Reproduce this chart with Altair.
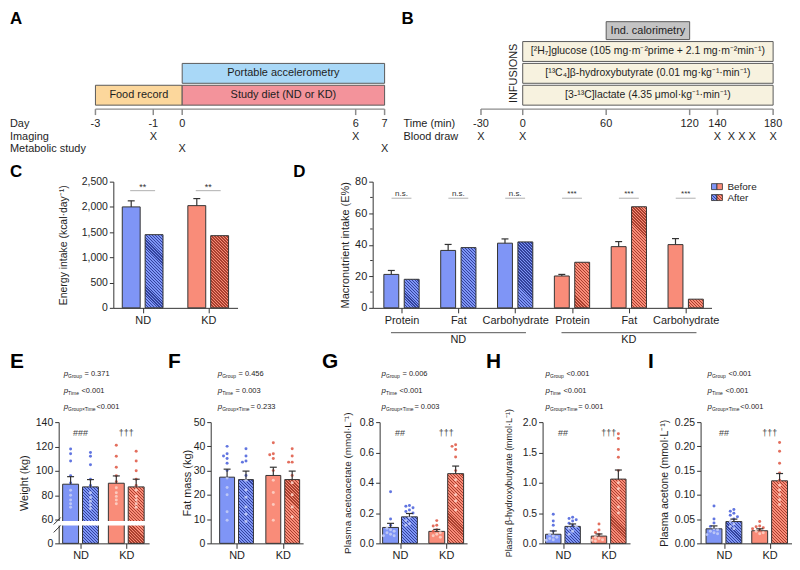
import altair as alt
import pandas as pd

FONT = "Liberation Sans"
INK = "#1e1e1e"
EDGE = "#333333"
GRAY = "#8c8c8c"
BOX_EDGE = "#5a5a5a"
BLUE, RED = "#7f95f6", "#f98c79"
BLUE_HATCH, RED_HATCH = "#33439c", "#a9402e"
BLUE_DOT, RED_DOT = "#5066dd", "#e05e4b"
BLUE_DOT_IN, RED_DOT_IN = "#c3ccf6", "#fcd0c5"
SIG_LINE = "#bdbdbd"
ACCEL, FOOD, DIET = "#a9d8f7", "#fcd79c", "#f3939b"
CALOR, INFUS = "#c4c4c4", "#f7f2df"

# ---------------- data ----------------
A_row_labels = ["Day", "Imaging", "Metabolic study"]
A_tick_days = [-3, -1, 0, 6, 7]
A_imaging_days = [-1, 6]
A_metabolic_days = [0, 7]
A_top_box = ["Portable accelerometry"]
A_top_start, A_top_end = [0], [7]
A_low_boxes = ["Food record", "Study diet (ND or KD)"]
A_low_start, A_low_end = [-3, 0], [0, 7]

B_row_labels = ["Time (min)", "Blood draw"]
B_tick_times = [-30, 0, 60, 120, 140, 180]
B_blood_times = [-30, 0, 140, 150, 157.5, 165, 180]
B_calorimetry = ["Ind. calorimetry"]
B_cal_start, B_cal_end = [60], [120]
B_infusions = ["[²H₇]glucose (105 mg·m⁻²prime + 2.1 mg·m⁻²min⁻¹)",
               "[¹³C₄]β-hydroxybutyrate (0.01 mg·kg⁻¹·min⁻¹)",
               "[3-¹³C]lactate (4.35 μmol·kg⁻¹·min⁻¹)"]
B_inf_start, B_inf_end = [0, 0, 0], [180, 180, 180]

diets = ["ND", "KD"]
conditions = ["Before", "After"]

C_before = [2000, 2025]
C_before_sem = [120, 140]
C_after = [1450, 1430]
C_sig = ["**", "**"]

macros = ["Protein", "Fat", "Carbohydrate"]
D_before = [21.2, 36.4, 41.0, 20.2, 38.8, 40.1]
D_before_sem = [2.5, 3.8, 2.7, 1.0, 3.2, 3.8]
D_after = [18.1, 38.2, 41.8, 28.9, 64.1, 5.5]
D_sig = ["n.s.", "n.s.", "n.s.", "***", "***", "***"]
D_minor = [10, 30, 50, 70]

p_subs = ["Group", "Time", "Group×Time"]

E_before, E_before_sem = [89.0, 89.8], [6.2, 6.0]
E_after, E_after_sem = [86.8, 86.8], [6.0, 6.3]
E_dots_before = [[118, 114, 108, 96, 90, 84, 80, 76, 73, 70],
                 [121, 112, 103, 96, 91, 86, 82, 79, 76, 73]]
E_dots_after = [[115, 112, 105, 93, 88, 82, 78, 75, 72, 69],
                [116, 108, 100, 93, 88, 84, 79, 76, 73, 70]]
E_p = ["= 0.371", "<0.001", "<0.001"]
E_marks = ["###", "†††"]

F_before, F_before_sem = [27.3, 28.0], [3.3, 3.4]
F_after, F_after_sem = [26.3, 26.3], [3.5, 3.5]
F_dots_before = [[40, 37, 36, 35, 33, 30, 27, 23, 20, 13, 9.5],
                 [41.5, 37, 36.5, 35, 30, 26, 21, 16, 9.5]]
F_dots_after = [[39, 36, 34, 33.5, 28, 26, 22, 19, 15, 12, 9],
                [39, 36, 33.5, 33.5, 28, 25, 20, 15, 11]]
F_p = ["= 0.456", "= 0.003", "= 0.233"]
F_marks = []

G_before, G_before_sem = [0.105, 0.079], [0.027, 0.013]
G_after, G_after_sem = [0.175, 0.46], [0.022, 0.05]
G_dots_before = [[0.34, 0.16, 0.12, 0.10, 0.09, 0.08, 0.07, 0.06, 0.05, 0.05],
                 [0.15, 0.12, 0.115, 0.09, 0.08, 0.07, 0.06, 0.05, 0.04]]
G_dots_after = [[0.25, 0.245, 0.235, 0.22, 0.21, 0.2, 0.17, 0.15, 0.13, 0.12],
                [0.65, 0.64, 0.62, 0.57, 0.48, 0.42, 0.38, 0.32, 0.28, 0.22]]
G_p = ["= 0.006", "<0.001", "= 0.003"]
G_marks = ["##", "†††"]

H_before, H_before_sem = [0.15, 0.12], [0.055, 0.035]
H_after, H_after_sem = [0.28, 1.06], [0.04, 0.15]
H_dots_before = [[0.48, 0.37, 0.30, 0.2, 0.15, 0.12, 0.1, 0.08, 0.06, 0.05],
                 [0.32, 0.22, 0.18, 0.15, 0.1, 0.08, 0.06, 0.05, 0.04]]
H_dots_after = [[0.43, 0.41, 0.39, 0.37, 0.33, 0.3, 0.28, 0.25, 0.2, 0.15],
                [1.81, 1.73, 1.55, 1.42, 1.2, 1.0, 0.9, 0.75, 0.6, 0.5]]
H_p = ["<0.001", "<0.001", "= 0.001"]
H_marks = ["##", "†††"]

I_before, I_before_sem = [0.030, 0.026], [0.006, 0.004]
I_after, I_after_sem = [0.045, 0.129], [0.005, 0.015]
I_dots_before = [[0.077, 0.05, 0.042, 0.035, 0.03, 0.028, 0.025, 0.022, 0.02, 0.018],
                 [0.045, 0.036, 0.034, 0.032, 0.03, 0.028, 0.025, 0.022, 0.02]]
I_dots_after = [[0.07, 0.066, 0.062, 0.058, 0.055, 0.05, 0.045, 0.04, 0.035, 0.03],
                [0.208, 0.19, 0.165, 0.145, 0.13, 0.12, 0.11, 0.1, 0.09, 0.08]]
I_p = ["<0.001", "<0.001", "<0.001"]
I_marks = ["##", "†††"]

# ---------------- helpers ----------------
ONE = alt.Data(values=[{"k": 0}])


def T(text, x, y, size=11, weight="normal", style="normal", align="left",
      baseline="middle", color=INK, angle=None):
    kw = dict(text=text, fontSize=size, fontWeight=weight, fontStyle=style,
              align=align, baseline=baseline, color=color)
    if angle is not None:
        kw["angle"] = angle
    return alt.Chart(ONE).mark_text(**kw).encode(x=alt.value(x), y=alt.value(y))


def reach(x):
    """invisible point that sets how far a panel's layout box reaches to the right"""
    return alt.Chart(ONE).mark_point(size=1, opacity=0, filled=True).encode(
        x=alt.value(x), y=alt.value(0))


SPACER = alt.Chart(ONE).mark_point(size=1, opacity=0, filled=True).encode(
    x=alt.value(0), y=alt.value(0)).properties(width=1, height=1)


def hatch(base, line, w, h, period=3.0, frac=0.4):
    w = max(float(w), 1.0)
    h = max(float(h), 1.0)
    k = (w + h) / (w * w + h * h)
    n = max(1, int(round((w + h) / period)))
    stops = []
    for i in range(n):
        a, b, c = i / n, (i + frac) / n, (i + 1) / n
        stops += [{"offset": round(a, 5), "color": line},
                  {"offset": round(b, 5), "color": line},
                  {"offset": round(b, 5), "color": base},
                  {"offset": round(c, 5), "color": base}]
    return {"gradient": "linear", "x1": 0, "y1": 1,
            "x2": round(k * w, 5), "y2": round(1 - k * h, 5), "stops": stops}


def swarm(vals, ypx, step, r=1.8):
    cands = [0, -3.6, 3.6, -7.2, 7.2, -1.8, 1.8, -5.4, 5.4]
    placed, out = [], [0.0] * len(vals)
    for i in sorted(range(len(vals)), key=lambda j: -vals[j]):
        y = ypx(vals[i])
        pick = cands[-1]
        for c in cands:
            if all((c - px) ** 2 + (y - py) ** 2 >= (2 * r) ** 2 for px, py in placed):
                pick = c
                break
        placed.append((pick, y))
        out[i] = pick / step
    return out


def bar_panel(W, H, c0, step, bw, gap, labels, fills, hatches, dotcols, dotcols_in,
              before, bsem, after, asem, dots_b, dots_a,
              ydomain, yrange, yticks, yfmt, ytitle, tsize, tcenter, ypx,
              lab_size=10.5, xlab_size=11, xlab_pad=2):
    n = len(labels)
    lo = -c0 / step
    xs = alt.Scale(domain=[lo, lo + W / step], nice=False, zero=False)
    if yrange:
        ys = alt.Scale(domain=ydomain, range=yrange, nice=False, zero=False)
    else:
        ys = alt.Scale(domain=ydomain, nice=False, zero=False)
    lab_expr = "[" + ",".join("'%s'" % l for l in labels) + "][datum.value]"
    xaxis = alt.Axis(values=list(range(n)), labelExpr=lab_expr, title=None, tickSize=5,
                     labelFontSize=xlab_size, labelPadding=xlab_pad, domainColor=EDGE,
                     tickColor=EDGE, labelColor=INK, grid=False, labelFlush=False,
                     labelOverlap=False)
    yaxis = alt.Axis(values=yticks, format=yfmt, title=ytitle, titleFontSize=tsize,
                     titleX=tcenter + 0.57 * tsize, titleFontWeight="normal",
                     titleColor=INK, labelFontSize=lab_size, labelColor=INK, tickSize=4,
                     tickColor=EDGE, domainColor=EDGE, labelPadding=2, grid=False,
                     labelOverlap=False)
    PX = lambda f: alt.X(f, scale=xs, axis=xaxis)
    PY = lambda f: alt.Y(f, scale=ys, axis=yaxis)

    half, hw, cap = (bw + gap) / 2 / step, bw / 2 / step, 3.5 / step
    bars, errs, pts = [], [], []
    for i in range(n):
        for sgn, vals, sems, dl in ((-1, before, bsem, dots_b), (1, after, asem, dots_a)):
            c = i + sgn * half
            fill = fills[i] if sgn < 0 else hatch(fills[i], hatches[i], bw, ypx(vals[i]))
            bars.append({"x": c - hw, "x2": c + hw, "y": vals[i], "y0": 0, "fill": fill})
            if sems is not None:
                errs.append({"xc": c, "xl": c - cap, "xr": c + cap,
                             "lo": vals[i], "hi": vals[i] + sems[i]})
            if dl is not None:
                for v, o in zip(dl[i], swarm(dl[i], ypx, step)):
                    col = dotcols[i] if v > vals[i] else dotcols_in[i]
                    pts.append({"x": c + o, "v": v, "c": col})
    L = [alt.Chart(alt.Data(values=bars)).mark_rect(stroke=EDGE, strokeWidth=1).encode(
        x=PX("x:Q"), x2=alt.X2("x2"), y=PY("y:Q"), y2=alt.Y2("y0"),
        fill=alt.Fill("fill:N", scale=None))]
    if pts:
        L.append(alt.Chart(alt.Data(values=pts)).mark_circle(size=9, opacity=0.9).encode(
            x=PX("x:Q"), y=PY("v:Q"), color=alt.Color("c:N", scale=None)))
    if errs:
        ed = alt.Data(values=errs)
        L.append(alt.Chart(ed).mark_rule(color=EDGE, strokeWidth=1.2).encode(
            x=PX("xc:Q"), y=PY("lo:Q"), y2=alt.Y2("hi")))
        L.append(alt.Chart(ed).mark_rule(color=EDGE, strokeWidth=1.2).encode(
            x=PX("xl:Q"), x2=alt.X2("xr"), y=PY("hi:Q")))
    return L, PX, PY


def sig_layers(PX, sig, ty, ly, halfw, size):
    df = pd.DataFrame({"g": list(range(len(sig))), "t": sig})
    return [
        alt.Chart(df).mark_text(fontSize=size, color=EDGE).encode(
            x=PX("g:Q"), y=alt.value(ty), text="t:N"),
        alt.Chart(df).transform_calculate(l="datum.g - %f" % halfw, r="datum.g + %f" % halfw)
        .mark_rule(color=SIG_LINE, strokeWidth=1.2).encode(
            x=PX("l:Q"), x2=alt.X2("r"), y=alt.value(ly)),
    ]


def p_lines(x0, pvals):
    offs = [21, 18, 33]
    ys = [-48, -31, -15]
    L = []
    for s, v, o, y in zip(p_subs, pvals, offs, ys):
        L.append(T("p", x0, y, size=8, style="italic"))
        L.append(T(s, x0 + 4.5, y + 2, size=5))
        L.append(T(v, x0 + o, y, size=7.5))
    return L


# ---------------- panel A ----------------
def panel_A():
    xs = alt.Scale(domain=[min(A_tick_days), max(A_tick_days)], nice=False, zero=False)
    X = lambda f: alt.X(f, scale=xs, axis=None)
    top = pd.DataFrame({"label": A_top_box, "s": A_top_start, "e": A_top_end})
    low = pd.DataFrame({"label": A_low_boxes, "s": A_low_start, "e": A_low_end})
    ticks = pd.DataFrame({"d": A_tick_days, "lab": [str(d) for d in A_tick_days]})
    L = [
        alt.Chart(top).mark_rect(fill=ACCEL, stroke=BOX_EDGE, strokeWidth=1).encode(
            x=X("s:Q"), x2=alt.X2("e"), y=alt.value(53), y2=alt.value(73)),
        alt.Chart(low).mark_rect(stroke=BOX_EDGE, strokeWidth=1).encode(
            x=X("s:Q"), x2=alt.X2("e"), y=alt.value(75), y2=alt.value(95),
            fill=alt.Fill("label:N", scale=alt.Scale(domain=A_low_boxes, range=[FOOD, DIET]),
                          legend=None)),
    ]
    for df, yc in ((top, 63), (low, 85)):
        L.append(alt.Chart(df).transform_calculate(m="(datum.s + datum.e) / 2")
                 .mark_text(fontSize=11, color=INK).encode(
                     x=X("m:Q"), y=alt.value(yc), text="label:N"))
    L.append(alt.Chart(pd.DataFrame({"s": [min(A_tick_days)], "e": [max(A_tick_days)]}))
             .mark_rule(color=GRAY, strokeWidth=1.5).encode(
                 x=X("s:Q"), x2=alt.X2("e"), y=alt.value(99)))
    L.append(alt.Chart(ticks).mark_rule(color=GRAY, strokeWidth=1.5).encode(
        x=X("d:Q"), y=alt.value(99), y2=alt.value(105)))
    L.append(alt.Chart(ticks).mark_text(fontSize=11, color=INK).encode(
        x=X("d:Q"), y=alt.value(114), text="lab:N"))
    for days, yc in ((A_imaging_days, 127), (A_metabolic_days, 139)):
        L.append(alt.Chart(pd.DataFrame({"d": days})).mark_text(
            text="X", fontSize=11, color=INK).encode(x=X("d:Q"), y=alt.value(yc)))
    for lab, yc in zip(A_row_labels, (114, 127, 139)):
        L.append(T(lab, -86, yc))
    L.append(T("A", -86, 0, size=17, weight="bold", baseline="top", color="#000"))
    L.append(reach(307))
    return alt.layer(*L).properties(width=291, height=146)


# ---------------- panel B ----------------
def panel_B():
    xs = alt.Scale(domain=[min(B_tick_times), max(B_tick_times)], nice=False, zero=False)
    X = lambda f: alt.X(f, scale=xs, axis=None)
    cal = pd.DataFrame({"label": B_calorimetry, "s": B_cal_start, "e": B_cal_end})
    ticks = pd.DataFrame({"d": B_tick_times, "lab": [str(d) for d in B_tick_times]})
    L = [alt.Chart(cal).mark_rect(fill=CALOR, stroke=BOX_EDGE, strokeWidth=1).encode(
        x=X("s:Q"), x2=alt.X2("e"), y=alt.value(11), y2=alt.value(29)),
        alt.Chart(cal).transform_calculate(m="(datum.s + datum.e) / 2")
        .mark_text(fontSize=11, color=INK).encode(x=X("m:Q"), y=alt.value(20), text="label:N")]
    for lab, s, e, y0 in zip(B_infusions, B_inf_start, B_inf_end, (31, 53, 75)):
        df = pd.DataFrame({"label": [lab], "s": [s], "e": [e]})
        L.append(alt.Chart(df).mark_rect(fill=INFUS, stroke=BOX_EDGE, strokeWidth=1).encode(
            x=X("s:Q"), x2=alt.X2("e"), y=alt.value(y0), y2=alt.value(y0 + 20)))
        L.append(alt.Chart(df).transform_calculate(m="(datum.s + datum.e) / 2")
                 .mark_text(fontSize=10.5, color=INK).encode(
                     x=X("m:Q"), y=alt.value(y0 + 10), text="label:N"))
    L.append(T("INFUSIONS", 33, 63, size=11, align="center", angle=270))
    L.append(alt.Chart(pd.DataFrame({"s": [min(B_tick_times)], "e": [max(B_tick_times)]}))
             .mark_rule(color=GRAY, strokeWidth=1.5).encode(
                 x=X("s:Q"), x2=alt.X2("e"), y=alt.value(99)))
    L.append(alt.Chart(ticks).mark_rule(color=GRAY, strokeWidth=1.5).encode(
        x=X("d:Q"), y=alt.value(99), y2=alt.value(105)))
    L.append(alt.Chart(ticks).mark_text(fontSize=11, color=INK).encode(
        x=X("d:Q"), y=alt.value(114), text="lab:N"))
    L.append(alt.Chart(pd.DataFrame({"d": B_blood_times})).mark_text(
        text="X", fontSize=11, color=INK).encode(x=X("d:Q"), y=alt.value(127)))
    for lab, yc in zip(B_row_labels, (114, 127)):
        L.append(T(lab, -78, yc))
    L.append(T("B", -80, 0, size=17, weight="bold", baseline="top", color="#000"))
    return alt.layer(*L).properties(width=294, height=146)


# ---------------- panel C ----------------
def panel_C():
    W, H = 125, 127
    ypx = lambda v: v / 2500 * H
    L, PX, PY = bar_panel(W, H, 29.5, 66, 18, 5, diets, [BLUE, RED], [BLUE_HATCH, RED_HATCH],
                          [BLUE_DOT, RED_DOT], [BLUE_DOT_IN, RED_DOT_IN],
                          C_before, C_before_sem, C_after, None, None, None,
                          [0, 2500], None, [0, 500, 1000, 1500, 2000, 2500], ",.0f",
                          "Energy intake (kcal·day⁻¹)", 10.5, -51, ypx)
    L += sig_layers(PX, C_sig, 5, 9, 0.19, 9)
    L.append(T("C", -104, -18, size=17, weight="bold", baseline="top", color="#000"))
    L.append(reach(180))
    return alt.layer(*L).properties(width=W, height=H)


# ---------------- panel D ----------------
def panel_D():
    W, H = 341, 127
    ypx = lambda v: v / 80 * H
    labels = macros * len(diets)
    fills = [BLUE] * len(macros) + [RED] * len(macros)
    hats = [BLUE_HATCH] * len(macros) + [RED_HATCH] * len(macros)
    L, PX, PY = bar_panel(W, H, 29, 57.2, 15, 5.5, labels, fills, hats, fills, fills,
                          D_before, D_before_sem, D_after, None, None, None,
                          [0, 80], None, [0, 20, 40, 60, 80], "d",
                          "Macronutrient intake (E%)", 11, -29, ypx, lab_size=11)
    L.append(alt.Chart(pd.DataFrame({"m": D_minor})).mark_rule(color=EDGE).encode(
        x=alt.value(-2.5), x2=alt.value(0), y=PY("m:Q")))
    L += sig_layers(PX, D_sig, 12, 16.7, 0.175, 8)
    nm = len(macros)
    grp = pd.DataFrame({"lab": diets, "s": [k * nm for k in range(len(diets))],
                        "e": [k * nm + nm - 1 for k in range(len(diets))]})
    L.append(alt.Chart(grp).transform_calculate(l="datum.s - 0.185", r="datum.e + 0.19")
             .mark_rule(color="#555555", strokeWidth=1).encode(
                 x=PX("l:Q"), x2=alt.X2("r"), y=alt.value(152)))
    L.append(alt.Chart(grp).transform_calculate(m="(datum.s + datum.e) / 2")
             .mark_text(fontSize=11, color=INK).encode(
                 x=PX("m:Q"), y=alt.value(159), text="lab:N"))
    sw = [(341, 346.5, 2, 8, BLUE), (346.5, 352, 2, 8, RED),
          (341, 346.5, 13, 19, hatch(BLUE, BLUE_HATCH, 5.5, 6)),
          (346.5, 352, 13, 19, hatch(RED, RED_HATCH, 5.5, 6))]
    for x1, x2, y1, y2, f in sw:
        L.append(alt.Chart(ONE).mark_rect(fill=f, stroke=EDGE, strokeWidth=0.8).encode(
            x=alt.value(x1), x2=alt.value(x2), y=alt.value(y1), y2=alt.value(y2)))
    L.append(T(conditions[0], 357, 5, size=10))
    L.append(T(conditions[1], 357, 16, size=10))
    L.append(T("D", -80, -18, size=17, weight="bold", baseline="top", color="#000"))
    return alt.layer(*L).properties(width=W, height=H)


# ---------------- bottom row ----------------
def small_panel(letter, letter_x, W, c0, step, bw, gap, before, bsem, after, asem,
                dots_b, dots_a, ydomain, yrange, yticks, yfmt, ytitle, tsize, tcenter,
                ypx, pvals, px0, marks, extra=None, right=None):
    H = 122
    L, PX, PY = bar_panel(W, H, c0, step, bw, gap, diets, [BLUE, RED],
                          [BLUE_HATCH, RED_HATCH], [BLUE_DOT, RED_DOT],
                          [BLUE_DOT_IN, RED_DOT_IN],
                          before, bsem, after, asem, dots_b, dots_a,
                          ydomain, yrange, yticks, yfmt, ytitle, tsize, tcenter, ypx,
                          xlab_pad=1)
    if extra:
        L += extra
    if marks:
        md = pd.DataFrame({"g": list(range(len(marks))), "t": marks})
        L.append(alt.Chart(md).mark_text(fontSize=9, color="#444444").encode(
            x=PX("g:Q"), y=alt.value(11), text="t:N"))
    L += p_lines(px0, pvals)
    L.append(T(letter, letter_x, -71, size=21, weight="bold", baseline="top", color="#000"))
    if right is not None:
        L.append(reach(right))
    return alt.layer(*L).properties(width=W, height=H)


def ypx_E(v):
    return v * 24 / 60 if v <= 60 else 24 + (v - 60) * 98 / 80


E_extra = [
    alt.Chart(ONE).mark_rect(fill="white").encode(
        x=alt.value(-4), x2=alt.value(91), y=alt.value(99.5), y2=alt.value(104)),
    alt.Chart(ONE).mark_rule(color=EDGE, strokeWidth=1).encode(
        x=alt.value(-5), x2=alt.value(2), y=alt.value(103), y2=alt.value(96)),
    alt.Chart(ONE).mark_rule(color=EDGE, strokeWidth=1).encode(
        x=alt.value(-5), x2=alt.value(2), y=alt.value(111), y2=alt.value(104)),
]

pE = small_panel("E", -49, 91, 22, 46, 16, 4, E_before, E_before_sem, E_after, E_after_sem,
                 E_dots_before, E_dots_after, [0, 60, 140], [122, 98, 0],
                 [0, 60, 80, 100, 120, 140], "d", "Weight (kg)", 11, -36, ypx_E,
                 E_p, 5, E_marks, E_extra, right=109)
pF = small_panel("F", -43, 93, 26, 46.5, 15, 4, F_before, F_before_sem, F_after, F_after_sem,
                 F_dots_before, F_dots_after, [0, 50], None,
                 [0, 10, 20, 30, 40, 50], "d", "Fat mass (kg)", 11, -24.5,
                 lambda v: v / 50 * 122, F_p, 7, F_marks, right=111)
pG = small_panel("G", -58, 88, 20.5, 46.5, 16, 3, G_before, G_before_sem, G_after, G_after_sem,
                 G_dots_before, G_dots_after, [0, 0.8], None,
                 [0, 0.2, 0.4, 0.6, 0.8], ".1f", "Plasma acetoacetate (mmol·L⁻¹)", 10, -33.5,
                 lambda v: v / 0.8 * 122, G_p, 2, G_marks, right=106)
pH = small_panel("H", -57, 88, 20.5, 46, 15.5, 4, H_before, H_before_sem, H_after, H_after_sem,
                 H_dots_before, H_dots_after, [0, 2], None,
                 [0, 0.5, 1.0, 1.5, 2.0], ".1f", "Plasma β-hydroxybutyrate (mmol·L⁻¹)", 9, -34.5,
                 lambda v: v / 2 * 122, H_p, 3, H_marks, right=105)
pI = small_panel("I", -53, 92, 23.5, 46, 16, 4, I_before, I_before_sem, I_after, I_after_sem,
                 I_dots_before, I_dots_after, [0, 0.25], None,
                 [0, 0.05, 0.1, 0.15, 0.2, 0.25], ".2f", "Plasma acetone (mmol·L⁻¹)", 10.5, -37,
                 lambda v: v / 0.25 * 122, I_p, 7, I_marks)

row1 = alt.hconcat(SPACER, panel_A(), panel_B(), spacing=0)
row2 = alt.hconcat(SPACER, panel_C(), panel_D(), spacing=0)
row3 = alt.hconcat(SPACER, pE, pF, pG, pH, pI, spacing=0)

chart = (alt.concat(row1, row2, row3, columns=1, spacing=7)
         .properties(padding=0, background="white")
         .configure(font=FONT)
         .configure_view(stroke=None)
         .configure_axis(grid=False, labelFont=FONT, titleFont=FONT))

chart.save("out.html", embed_options={"renderer": "svg", "actions": False})
